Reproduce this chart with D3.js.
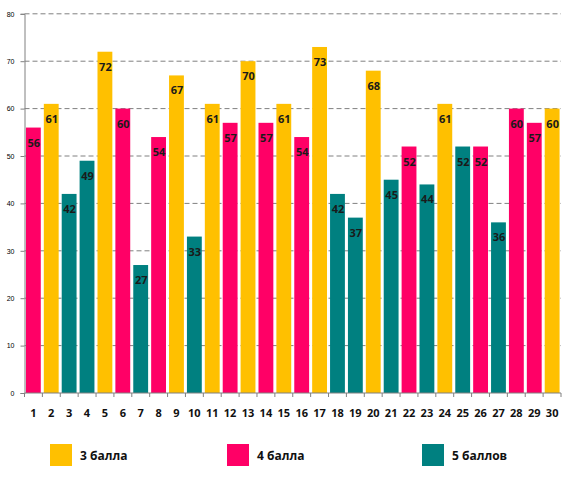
<!DOCTYPE html>
<html><head><meta charset="utf-8">
<script src="https://cdn.jsdelivr.net/npm/d3@7"></script>
<style>body{margin:0;background:#fff}svg{display:block}</style>
</head><body><svg id="c" width="574" height="483"></svg>
<script>
const categories = d3.range(1, 31).map(String);
const values = [56,61,42,49,72,60,27,54,67,33,61,57,70,57,61,54,73,42,37,68,45,52,44,61,52,52,36,60,57,60];
const grades = ["4","3","5","5","3","4","5","4","3","5","3","4","3","4","3","4","3","5","5","3","5","4","5","3","5","4","5","4","4","3"];
const legendLabels = ["3 балла","4 балла","5 баллов"];
const legendKeys = ["3","4","5"];
const yTicks = [0,10,20,30,40,50,60,70,80];

(function () {
const colors = {"3":"#FFC000","4":"#FF0066","5":"#008080"};
const font = "'Open Sans', Lato, sans-serif";
const svg = d3.select("#c");
const pLeft = 24.5, pRight = 561, pTop = 13.8, pBottom = 393;
const x = d3.scaleBand().domain(categories).range([pLeft, pRight]).paddingInner(0.17).paddingOuter(0.08);
const y = d3.scaleLinear().domain([0, 80]).range([pBottom, pTop]);

// gridlines
svg.append("g").selectAll("line").data(yTicks.filter(d => d > 0)).join("line")
  .attr("x1", pLeft).attr("x2", pRight).attr("y1", d => y(d)).attr("y2", d => y(d))
  .attr("stroke", "#808080").attr("stroke-width", 1).attr("stroke-dasharray", "5,3");

// bars
svg.append("g").selectAll("rect").data(values).join("rect")
  .attr("x", (d, i) => x(categories[i])).attr("width", x.bandwidth())
  .attr("y", d => y(d)).attr("height", d => pBottom - y(d))
  .attr("fill", (d, i) => colors[grades[i]]);

// y axis
const yAxis = d3.axisLeft(y).tickValues(yTicks).tickSize(4).tickPadding(6);
const gy = svg.append("g").attr("transform", `translate(${pLeft},0)`).call(yAxis);
gy.select(".domain").attr("stroke", "#808080");
gy.selectAll(".tick line").attr("stroke", "#808080");
gy.selectAll(".tick text").attr("font-family", "Arial, 'Liberation Sans', sans-serif").attr("font-size", 7).attr("fill", "#000");

// x axis
const gx = svg.append("g").attr("transform", `translate(0,${pBottom})`);
gx.append("line").attr("x1", pLeft).attr("x2", pRight).attr("stroke", "#808080");
const bounds = d3.range(0, 31).map(i => pLeft + (pRight - pLeft) * i / 30);
gx.selectAll("line.t").data(bounds).join("line").attr("class", "t")
  .attr("x1", d => d).attr("x2", d => d).attr("y1", 0).attr("y2", 4).attr("stroke", "#808080");
gx.selectAll("text").data(categories).join("text")
  .attr("x", d => x(d) + x.bandwidth() / 2).attr("y", 24)
  .attr("text-anchor", "middle").attr("font-family", font)
  .attr("font-weight", "bold").attr("font-size", 11).attr("fill", "#111").text(d => d);

// value labels
svg.append("g").selectAll("text").data(values).join("text")
  .attr("x", (d, i) => x(categories[i]) + x.bandwidth() / 2 + 0.5)
  .attr("y", d => y(d) + 19)
  .attr("text-anchor", "middle").attr("font-family", font)
  .attr("font-weight", "bold").attr("font-size", 11).attr("fill", "#1a1a1a").text(d => d);

// legend
const legX = [50, 227, 422];
const lg = svg.append("g").selectAll("g").data(legendKeys).join("g")
  .attr("transform", (d, i) => `translate(${legX[i]},444)`);
lg.append("rect").attr("width", 22).attr("height", 22).attr("fill", d => colors[d]);
lg.append("text").attr("x", 30).attr("y", 16).attr("font-family", font)
  .attr("font-weight", "bold").attr("font-size", 12).attr("fill", "#111")
  .text((d, i) => legendLabels[i]);
})();
</script></body></html>
